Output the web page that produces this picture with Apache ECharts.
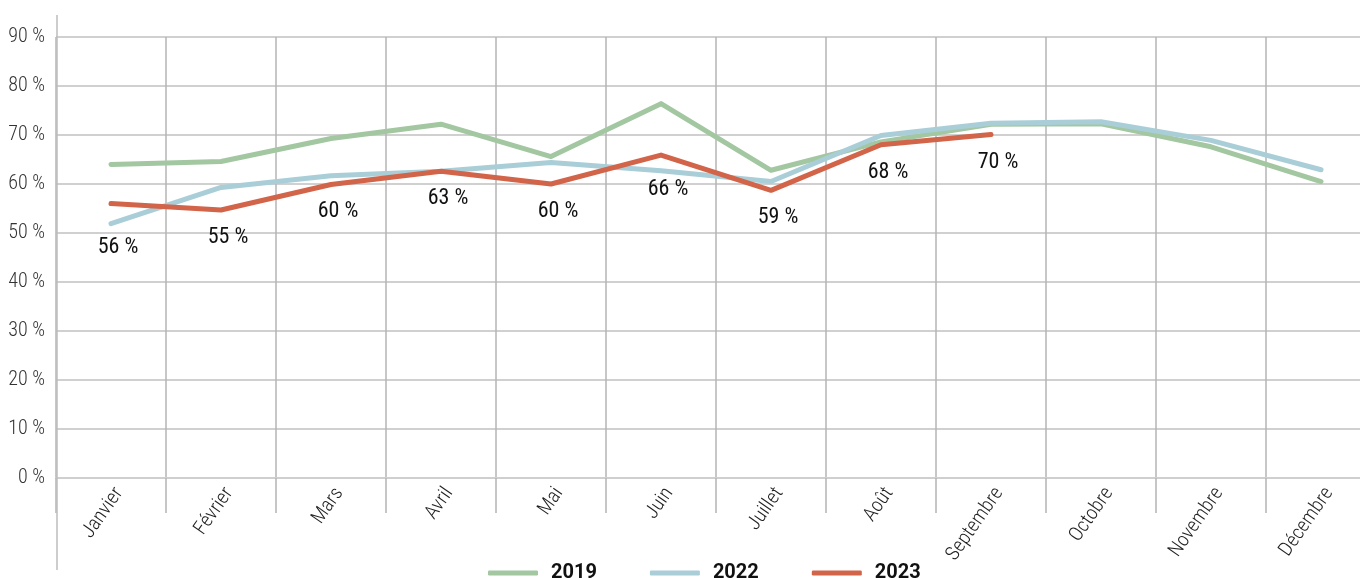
<!DOCTYPE html>
<html>
<head>
<meta charset="utf-8">
<script src="https://cdn.jsdelivr.net/npm/echarts@6/dist/echarts.min.js"></script>
<style>html,body{margin:0;padding:0;background:#fff}#c{width:1360px;height:578px}</style>
</head>
<body>
<div id="c"></div>
<script>
const months = ['Janvier','Février','Mars','Avril','Mai','Juin','Juillet','Août','Septembre','Octobre','Novembre','Décembre'];
const s2019 = [64.0, 64.6, 69.3, 72.2, 65.6, 76.4, 62.8, 68.6, 72.2, 72.3, 67.6, 60.5];
const s2022 = [51.9, 59.3, 61.7, 62.6, 64.4, 62.7, 60.5, 69.9, 72.4, 72.7, 68.9, 62.9];
const s2023 = [56.0, 54.7, 59.9, 62.6, 60.0, 65.9, 58.7, 68.0, 70.1];
const yMin = 0, yMax = 90, yStep = 10;

const chart = echarts.init(document.getElementById('c'), null, {renderer: 'canvas'});
// extra downward nudge for labels that would touch the 2022 line
const labelNudge = {0: 16, 5: 7};
function line(name, data, color, z, withLabels) {
  return {
    name, type: 'line', data, z,
    symbol: withLabels ? 'circle' : 'none', symbolSize: 3, showSymbol: withLabels,
    lineStyle: {color, width: 5, cap: 'round', join: 'round'},
    itemStyle: {color},
    label: withLabels ? {
      show: true, position: 'bottom', distance: 15,
      formatter: p => Math.round(p.value) + ' %',
      fontFamily: "'Roboto'", fontStyle: 'condensed', fontSize: 22, color: '#111'
    } : {show: false},
    labelLayout: withLabels ? (p => ({dx: 7, dy: labelNudge[p.dataIndex] || 0})) : undefined,
    emphasis: {disabled: true}
  };
}
chart.setOption({
  animation: false,
  grid: {left: 56, top: 37, bottom: 100, right: -16, outerBoundsMode: 'none', containLabel: false},
  legend: {
    top: 558, left: 483, itemWidth: 50, itemHeight: 5, itemGap: 53,
    icon: 'roundRect',
    textStyle: {fontFamily: 'Roboto, sans-serif', fontWeight: 'bold', fontSize: 20, color: '#111', padding: [0, 0, 0, 8]},
    data: ['2019', '2022', '2023']
  },
  xAxis: {
    type: 'category', data: months, boundaryGap: true,
    axisLine: {show: true, lineStyle: {color: '#cfcfcf', width: 2}},
    axisTick: {show: true, length: 35, lineStyle: {color: '#b4b4b4', width: 1.5}},
    splitLine: {show: true, lineStyle: {color: '#b4b4b4', width: 1.5}},
    axisLabel: {rotate: 55, margin: 6, verticalAlign: 'top', fontFamily: "'Roboto'", fontStyle: 'condensed', fontWeight: 300, fontSize: 20, color: '#222', interval: 0}
  },
  yAxis: {
    type: 'value', min: yMin, max: yMax, interval: yStep,
    axisLine: {show: false}, axisTick: {show: false},
    splitLine: {lineStyle: {color: '#d0d0d0', width: 2}},
    axisLabel: {formatter: v => v + ' %', margin: 11, fontFamily: "'Roboto'", fontStyle: 'condensed', fontWeight: 300, fontSize: 20, color: '#333'}
  },
  graphic: [{
    type: 'line', shape: {x1: 57, y1: 15, x2: 57, y2: 570},
    style: {stroke: '#bdbdbd', lineWidth: 1.5}, z: 1
  }],
  series: [
    line('2019', s2019, '#a2c7a1', 2, false),
    line('2022', s2022, '#a9ced8', 3, false),
    line('2023', s2023, '#d2644a', 4, true)
  ]
});
</script>
</body>
</html>
